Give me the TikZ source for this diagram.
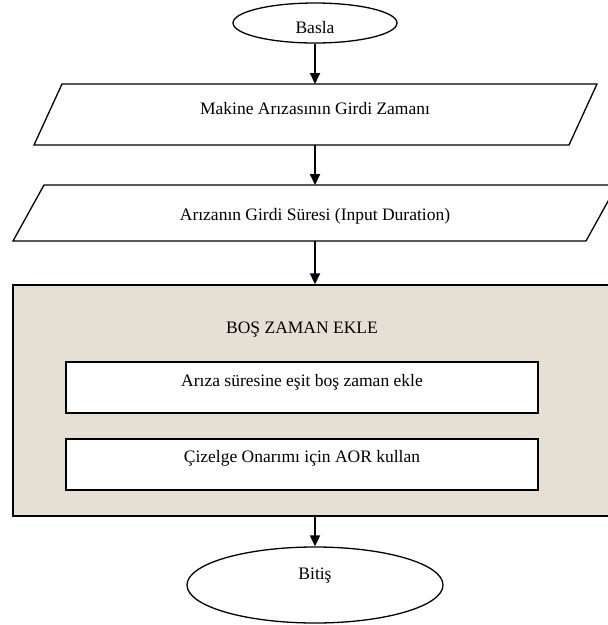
\documentclass[tikz,border=0pt]{standalone}
\usepackage{fontspec}
\setmainfont{Liberation Serif}
\usetikzlibrary{shapes.geometric,arrows.meta}
\definecolor{parch}{RGB}{229,223,212}
\begin{document}
\begin{tikzpicture}[x=1pt,y=-1pt,
  arr/.style={-{Triangle[length=11pt,width=10pt]}, line width=1.9pt},
  term/.style={ellipse, draw, line width=1.3pt, inner sep=0},
  para/.style={draw, line width=1.3pt, line join=miter},
  outer/.style={rectangle, draw, fill=parch, line width=1.4pt, inner sep=0, minimum width=604, minimum height=231},
  inbox/.style={rectangle, draw, fill=white, line width=1.3pt, inner sep=0, minimum width=472, minimum height=51},
  txt/.style={font=\fontsize{17.5}{20}\selectfont, inner sep=0}]
\useasboundingbox (0,0) rectangle (608,625);
\clip (0,0) rectangle (608,625);
% start
\node[term, minimum width=164, minimum height=40] (start) at (315,23) {};
\node[txt] (tstart) at (315,28) {Basla};
% parallelogram 1
\draw[para] (34,145) -- (62,84) -- (597,84) -- (569,145) -- cycle;
\coordinate (p1n) at (315,84);
\coordinate (p1s) at (315,145);
\node[txt] (t1) at (315,109) {Makine Arızasının Girdi Zamanı};
% parallelogram 2
\draw[para] (13,241) -- (44,185) -- (617,185) -- (586,241) -- cycle;
\coordinate (p2n) at (315,185);
\coordinate (p2s) at (315,241);
\node[txt] (t2) at (315,216) {Arızanın Girdi Süresi (Input Duration)};
% big box
\node[outer] (big) at (315,400.5) {};
\node[txt] (title) at (302,330) {BOŞ ZAMAN EKLE};
\node[inbox] (b1) at (302,387.5) {};
\node[txt] (tb1) at (302,382) {Arıza süresine eşit boş zaman ekle};
\node[inbox] (b2) at (302,464.5) {};
\node[txt] (tb2) at (302,458) {Çizelge Onarımı için AOR kullan};
% end
\node[term, minimum width=256, minimum height=76] (end) at (315,585) {};
\node[txt] (tend) at (315,576) {Bitiş};
% connectors
\draw[arr] (start.south) -- (p1n);
\draw[arr] (p1s) -- (p2n);
\draw[arr] (p2s) -- (big.north);
\draw[arr] (big.south) -- (end.north);
\end{tikzpicture}
\end{document}
